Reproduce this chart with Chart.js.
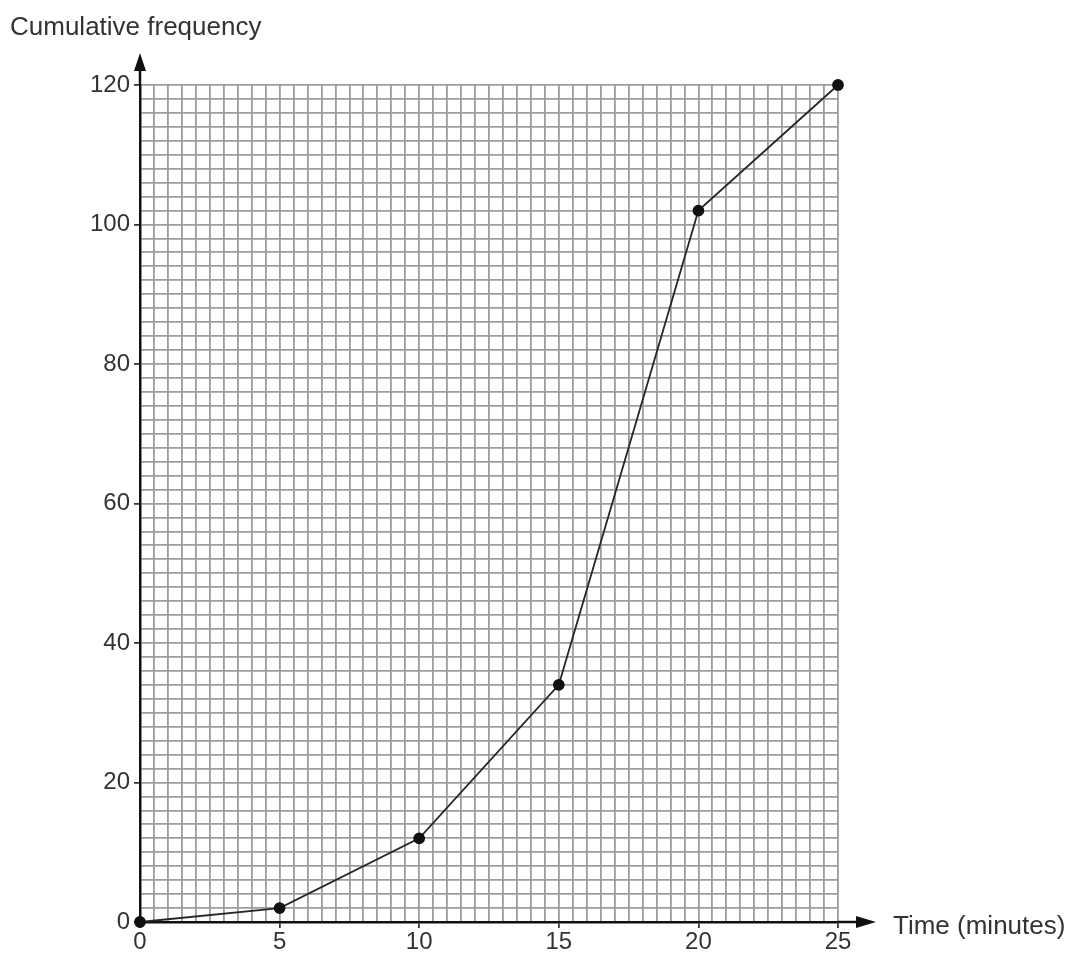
<!DOCTYPE html>
<html lang="en">
<head>
    <meta charset="UTF-8">
    <title>Cumulative frequency</title>
    <script src="https://cdn.jsdelivr.net/npm/chart.js"></script>
    <style>
        body { margin: 0; background: #fff; }
        #wrap { width: 1070px; height: 954px; }
    </style>
</head>
<body>
    <div id="wrap"><canvas id="cfChart" width="1070" height="954"></canvas></div>

    <script>
        // Data
        const times = [0, 5, 10, 15, 20, 25];
        const cumFreq = [0, 2, 12, 34, 102, 120];
        const xLabelStep = 5;
        const yLabelStep = 20;

        const fontFamily = 'Liberation Sans, Arial, sans-serif';
        const tickFont = { family: fontFamily, size: 24 };
        const gridGrey = '#9c9c9c';

        // Axis arrows + axis titles
        const axisDecor = {
            id: 'axisDecor',
            afterDraw(chart) {
                const { ctx, chartArea: a } = chart;
                ctx.save();
                ctx.strokeStyle = '#111';
                ctx.fillStyle = '#111';
                ctx.lineWidth = 2.5;
                // y axis extension and arrow
                ctx.beginPath();
                ctx.moveTo(a.left, a.top);
                ctx.lineTo(a.left, a.top - 22);
                ctx.stroke();
                ctx.beginPath();
                ctx.moveTo(a.left, a.top - 32);
                ctx.lineTo(a.left - 6, a.top - 14);
                ctx.lineTo(a.left + 6, a.top - 14);
                ctx.closePath();
                ctx.fill();
                // x axis extension and arrow
                ctx.beginPath();
                ctx.moveTo(a.right, a.bottom);
                ctx.lineTo(a.right + 22, a.bottom);
                ctx.stroke();
                ctx.beginPath();
                ctx.moveTo(a.right + 38, a.bottom);
                ctx.lineTo(a.right + 18, a.bottom - 6);
                ctx.lineTo(a.right + 18, a.bottom + 6);
                ctx.closePath();
                ctx.fill();
                // titles
                ctx.fillStyle = '#333';
                ctx.font = '26px ' + fontFamily;
                ctx.textBaseline = 'middle';
                ctx.textAlign = 'left';
                ctx.fillText('Cumulative frequency', 10, 28);
                ctx.fillText('Time (minutes)', a.right + 55, a.bottom + 5);
                ctx.restore();
            }
        };

        const ctx = document.getElementById('cfChart').getContext('2d');
        new Chart(ctx, {
            type: 'line',
            data: {
                datasets: [{
                    data: times.map((t, i) => ({ x: t, y: cumFreq[i] })),
                    borderColor: '#262626',
                    borderWidth: 1.8,
                    pointBackgroundColor: '#111',
                    pointBorderColor: '#111',
                    pointRadius: 5,
                    tension: 0,
                    clip: false
                }]
            },
            options: {
                responsive: false,
                animation: false,
                layout: { padding: { left: 0, top: 85, right: 232, bottom: 0 } },
                plugins: {
                    legend: { display: false },
                    tooltip: { enabled: false }
                },
                scales: {
                    x: {
                        type: 'linear',
                        min: 0,
                        max: 25,
                        afterFit: (s) => { s.height = 32; },
                        border: { color: '#111', width: 2.5 },
                        grid: {
                            color: gridGrey,
                            lineWidth: 1.8,
                            tickLength: 6,
                            tickWidth: 1.5,
                            tickColor: (c) => (c.tick && Math.abs(c.tick.value % xLabelStep) < 1e-6) ? '#111' : 'rgba(0,0,0,0)'
                        },
                        ticks: {
                            stepSize: 0.5,
                            autoSkip: false,
                            maxRotation: 0,
                            padding: 0,
                            color: '#333',
                            font: tickFont,
                            callback: (v) => Math.abs(v % xLabelStep) < 1e-6 ? String(v) : ''
                        }
                    },
                    y: {
                        min: 0,
                        max: 120,
                        afterFit: (s) => { s.width = 140; },
                        border: { color: '#111', width: 2.5 },
                        grid: {
                            color: gridGrey,
                            lineWidth: 1.8,
                            tickLength: 6,
                            tickWidth: 1.5,
                            tickColor: (c) => (c.tick && Math.abs(c.tick.value % yLabelStep) < 1e-6) ? '#111' : 'rgba(0,0,0,0)'
                        },
                        ticks: {
                            stepSize: 2,
                            autoSkip: false,
                            padding: 4,
                            color: '#333',
                            font: tickFont,
                            callback: (v) => Math.abs(v % yLabelStep) < 1e-6 ? String(v) : ''
                        }
                    }
                }
            },
            plugins: [axisDecor]
        });
    </script>
</body>
</html>
